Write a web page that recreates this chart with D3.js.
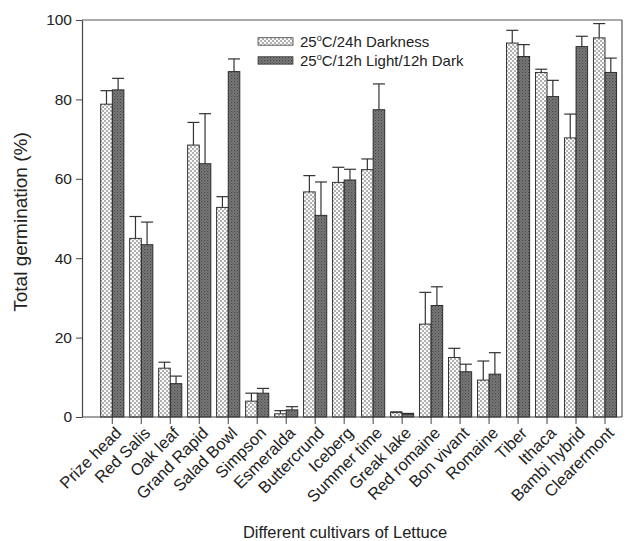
<!DOCTYPE html>
<html>
<head>
<meta charset="utf-8">
<script src="https://cdn.jsdelivr.net/npm/d3@7"></script>
<style>
  body { margin: 0; background: #fff; }
  svg { display: block; font-family: Arial, "Liberation Sans", sans-serif; }
</style>
</head>
<body>
<svg id="chart" width="632" height="541"></svg>
<script>
const categories = ["Prize head","Red Salis","Oak leaf","Grand Rapid","Salad Bowl","Simpson","Esmeralda","Buttercrund","Iceberg","Summer time","Greak lake","Red romaine","Bon vivant","Romaine","Tiber","Ithaca","Bambi hybrid","Clearermont"];
const seriesNames = ["25°C/24h Darkness", "25°C/12h Light/12h Dark"];
const darkness = [78.8, 45.0, 12.3, 68.5, 52.8, 4.0, 0.8, 56.7, 59.1, 62.3, 1.1, 23.4, 15.0, 9.3, 94.2, 86.8, 70.3, 95.5];
const darknessErr = [3.4, 5.5, 1.5, 5.7, 2.7, 2.0, 0.8, 4.1, 3.8, 2.7, 0.2, 8.0, 2.3, 4.8, 3.2, 0.8, 6.0, 3.6];
const lightDark = [82.4, 43.4, 8.4, 63.8, 87.0, 6.0, 1.8, 50.8, 59.7, 77.4, 0.7, 28.1, 11.4, 10.8, 90.8, 80.7, 93.3, 86.8];
const lightDarkErr = [2.9, 5.7, 1.9, 12.6, 3.2, 1.2, 0.8, 8.4, 2.7, 6.5, 0.2, 4.7, 1.9, 5.4, 3.0, 4.1, 2.6, 3.6];
const yTicks = [0, 20, 40, 60, 80, 100];

const svg = d3.select("#chart");
const mLeft = 82, mRight = 622, mTop = 20, mBottom = 417;

const defs = svg.append("defs");
const p1 = defs.append("pattern").attr("id", "dots").attr("patternUnits", "userSpaceOnUse")
  .attr("width", 4).attr("height", 4);
p1.append("rect").attr("width", 4).attr("height", 4).attr("fill", "#fafafa");
p1.append("circle").attr("cx", 1).attr("cy", 1).attr("r", 0.75).attr("fill", "#444");
p1.append("circle").attr("cx", 3).attr("cy", 3).attr("r", 0.75).attr("fill", "#444");
const p2 = defs.append("pattern").attr("id", "dark").attr("patternUnits", "userSpaceOnUse")
  .attr("width", 3).attr("height", 3);
p2.append("rect").attr("width", 3).attr("height", 3).attr("fill", "#7c7c7c");
p2.append("rect").attr("x", 0).attr("y", 0).attr("width", 1.2).attr("height", 1.2).attr("fill", "#444");
p2.append("rect").attr("x", 1.5).attr("y", 1.5).attr("width", 1.2).attr("height", 1.2).attr("fill", "#555");

const x = d3.scaleBand().domain(categories).range([97.8, 619.5]).paddingInner(0).paddingOuter(0);
const barW = 11.6;
const y = d3.scaleLinear().domain([0, 100]).range([mBottom, mTop]);

const fills = ["url(#dots)", "url(#dark)"];
const series = [
  {vals: darkness, err: darknessErr, off: -barW},
  {vals: lightDark, err: lightDarkErr, off: 0}
];

// frame
svg.append("line").attr("x1", mLeft).attr("x2", mRight).attr("y1", mTop).attr("y2", mTop)
  .attr("stroke", "#555").attr("stroke-width", 1.2);
svg.append("line").attr("x1", mRight).attr("x2", mRight).attr("y1", mTop).attr("y2", mBottom)
  .attr("stroke", "#555").attr("stroke-width", 1.2);

series.forEach((s, si) => {
  const g = svg.append("g");
  categories.forEach((c, i) => {
    const cx = x(c) + x.bandwidth() / 2;
    const bx = cx + s.off;
    const v = s.vals[i], e = s.err[i];
    const mid = bx + barW / 2;
    g.append("line").attr("x1", mid).attr("x2", mid)
      .attr("y1", y(v)).attr("y2", y(v + e)).attr("stroke", "#333").attr("stroke-width", 1.2);
    g.append("line").attr("x1", mid - 6).attr("x2", mid + 6)
      .attr("y1", y(v + e)).attr("y2", y(v + e)).attr("stroke", "#333").attr("stroke-width", 1.2);
    g.append("rect").attr("x", bx).attr("y", y(v)).attr("width", barW)
      .attr("height", y(0) - y(v)).attr("fill", fills[si])
      .attr("stroke", "#222").attr("stroke-width", 0.9);
  });
});

// y axis
const yAxis = d3.axisLeft(y).tickValues(yTicks).tickSize(6).tickPadding(4).tickSizeOuter(0);
const ya = svg.append("g").attr("transform", `translate(${mLeft},0)`).call(yAxis);
ya.select(".domain").attr("stroke", "#444").attr("stroke-width", 1.2);
ya.selectAll(".tick line").attr("stroke", "#444");
ya.selectAll("text").attr("font-size", 15.5).attr("fill", "#222").attr("font-family", "Arial, 'Liberation Sans', sans-serif");

// x axis
const xAxis = d3.axisBottom(x).tickSize(7).tickSizeOuter(0).tickPadding(3);
const xa = svg.append("g").attr("transform", `translate(0,${mBottom})`).call(xAxis);
xa.select(".domain").remove();
xa.append("line").attr("x1", mLeft).attr("x2", mRight).attr("y1", 0).attr("y2", 0)
  .attr("stroke", "#444").attr("stroke-width", 1.2);
xa.selectAll(".tick line").attr("stroke", "#444");
xa.selectAll(".tick text")
  .attr("font-size", 16.5).attr("fill", "#222").attr("font-family", "Arial, 'Liberation Sans', sans-serif")
  .attr("text-anchor", "end")
  .attr("dy", "0.35em")
  .attr("transform", "translate(6,13) rotate(-45)")
  .attr("y", 0).attr("x", 0);

// axis titles
svg.append("text").attr("x", 345).attr("y", 538).attr("text-anchor", "middle")
  .attr("font-size", 16.5).attr("fill", "#222").text("Different cultivars of Lettuce");
svg.append("text").attr("transform", "translate(27,222) rotate(-90)").attr("text-anchor", "middle")
  .attr("font-size", 19).attr("fill", "#222").text("Total germination (%)");

// legend
const leg = svg.append("g");
seriesNames.forEach((n, i) => {
  const ly = 37.7 + i * 19;
  leg.append("rect").attr("x", 258).attr("y", ly).attr("width", 35).attr("height", 7.5)
    .attr("fill", fills[i]).attr("stroke", "#444").attr("stroke-width", 0.8);
  const t = leg.append("text").attr("x", 300).attr("y", ly + 9.5).attr("font-size", 15).attr("fill", "#222");
  const m = n.match(/^(\d+)(°)(.*)$/);
  t.append("tspan").text(m[1]);
  t.append("tspan").attr("font-size", 9).attr("dy", -6).text("o");
  t.append("tspan").attr("dy", 6).text(m[3]);
});
</script>
</body>
</html>
